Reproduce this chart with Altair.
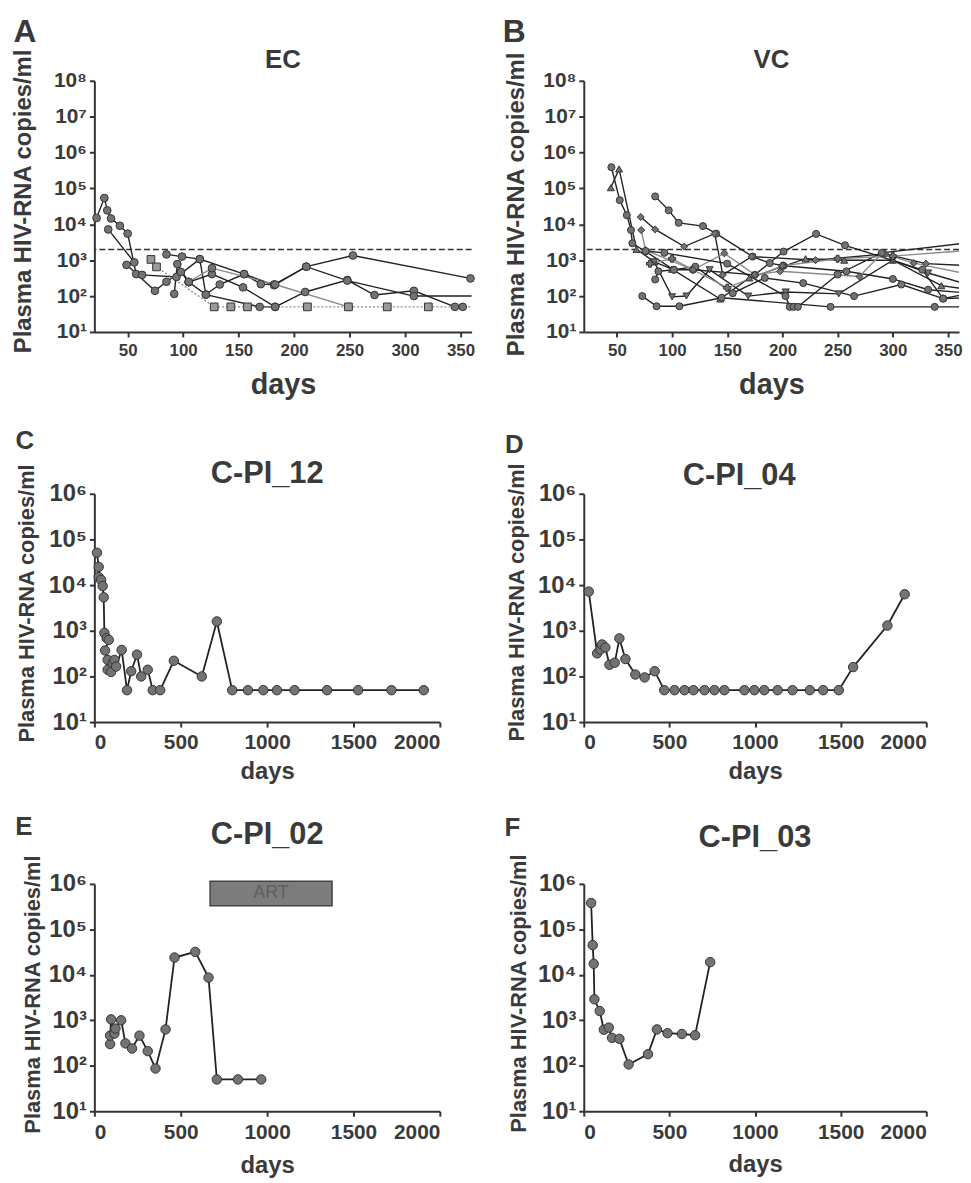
import altair as alt
import pandas as pd

FONT = "Liberation Sans"
TXT = "#3a3a3a"
LINE = "#222222"
GREY_LINE = "#8a8a8a"
PT_FILL = "#737373"
PT_STROKE = "#333333"

# ---------------- Panel A (EC) ----------------
ec1_days = [22, 29, 31.6, 35, 43, 50, 57.7, 63, 94, 115, 155, 170, 182, 211, 253, 359]
ec1_vals = [15000, 54000, 24500, 14500, 9100, 5500, 410, 390, 340, 1070, 410, 215, 210, 660, 1350, 310]
ec2_days = [32.5, 56, 49, 74.6, 85, 98, 105, 126, 154, 183, 210, 248, 272.5, 308, 345, 352]
ec2_vals = [7200, 870, 740, 140, 250, 470, 245, 410, 175, 50, 130, 280, 107, 140, 50, 50]
ec3_days = [85, 99, 115, 120.5, 133, 155, 182, 211, 248, 308, 365]
ec3_vals = [1450, 1260, 1070, 110, 210, 410, 200, 660, 270, 100, 100]
ec4_days = [92, 94.8, 105, 120.5, 169, 183]
ec4_vals = [115, 780, 245, 110, 50, 50]
ec5_days = [105, 126, 183, 249]
ec5_vals = [250, 600, 210, 50]
ecsq_days = [71, 76, 128, 143, 158, 212, 249, 284, 321, 365]
ecsq_vals = [1050, 650, 50, 50, 50, 50, 50, 50, 50, 50]

# ---------------- Panel B (VC) ----------------
vc1_days = [45, 52.6, 59, 62.8, 64, 76, 101.6, 119, 175, 201, 230.5, 256.7, 326.7, 345.6, 370]
vc1_vals = [390000, 47000, 18000, 6900, 2950, 1750, 540, 540, 390, 1740, 5400, 2600, 540, 85, 120]
vc2_days = [44.5, 52, 67.8, 84, 100, 143.6, 170, 221, 256, 300, 344, 370]
vc2_vals = [105000, 350000, 2000, 900, 560, 83, 320, 1100, 1000, 1000, 195, 150]
vc3_days = [84.7, 97, 106, 128, 140, 173, 188.5, 201, 258, 300, 332, 370]
vc3_vals = [60000, 24500, 11000, 8900, 5500, 1260, 830, 700, 490, 300, 150, 120]
vc4_days = [71.6, 84.7, 111, 138.6, 146, 172, 230, 293, 330, 370]
vc4_vals = [16000, 7200, 2400, 5500, 390, 1260, 1000, 1500, 800, 700]
vc5_days = [73, 86, 106.6, 145, 243.6, 338, 370]
vc5_vals = [100, 52, 52, 90, 50, 50, 50]
vc6_days = [83.8, 100, 113, 134, 169, 203, 251, 300, 332, 370]
vc6_vals = [900, 95, 100, 540, 100, 130, 115, 1000, 440, 200]
vc7_days = [84.7, 87.6, 101.6, 121, 155, 184, 218.8, 264.9, 307.7, 345.6, 370]
vc7_vals = [290, 490, 540, 660, 120, 320, 230, 100, 210, 85, 90]
vc8_days = [72, 76, 119, 147.4, 175, 198, 269.8, 290, 319, 370]
vc8_vals = [6900, 1900, 540, 1550, 390, 490, 350, 1550, 830, 400]
vc9_days = [76, 93, 150, 202.8, 206.6, 210, 214, 250, 290, 370]
vc9_vals = [1800, 1600, 800, 100, 50, 50, 50, 400, 1600, 3100]
vc10_days = [80, 100, 150, 200, 250, 300, 370]
vc10_vals = [800, 1100, 170, 700, 1100, 1300, 1900]

# ---------------- Panels C-F ----------------
c12_days = [15, 25, 25, 39, 48, 54, 58, 71, 83, 62, 77, 77, 97, 106, 116, 126, 158, 189, 213, 247,
            271, 309, 338, 381, 460, 622, 709, 798, 889, 978, 1057, 1159, 1347, 1527, 1720, 1907]
c12_vals = [51000, 25000, 15000, 13000, 9500, 5400, 900, 690, 630, 370, 230, 140, 125, 195, 230, 165, 380,
            50, 130, 300, 100, 140, 50, 50, 220, 100, 1600, 50, 50, 50, 50, 50, 50, 50, 50, 50]
c04_days = [29, 78, 97, 107, 126, 150, 181, 208, 243, 301, 355, 414, 470, 530, 588, 641, 705, 763, 821,
            938, 996, 1054, 1132, 1219, 1320, 1398, 1489, 1573, 1773, 1874]
c04_vals = [7200, 320, 390, 500, 430, 180, 200, 680, 240, 110, 95, 130, 50, 50, 50, 50, 50, 50, 50,
            50, 50, 50, 50, 50, 50, 50, 50, 160, 1300, 6300]
c02_days = [91, 91, 97, 116, 122, 155, 180, 218, 261, 309, 354, 412, 464, 584, 661, 709, 831, 966]
c02_vals = [300, 460, 1050, 510, 660, 1000, 310, 240, 460, 210, 87, 630, 24000, 32000, 8700, 50, 50, 50]
art_start, art_end = 670, 1376
art_low, art_high = 330000, 1150000
c03_days = [43, 52, 58, 62, 93, 117, 146, 165, 208, 262, 375, 427, 489, 573, 650, 738]
c03_vals = [380000, 45000, 17500, 2900, 1600, 620, 690, 410, 390, 107, 180, 630, 520, 500, 470, 19000]

SUP_EXPR = "'10' + ['\u2070','\u00b9','\u00b2','\u00b3','\u2074','\u2075','\u2076','\u2077','\u2078'][round(log(datum.value)/LN10)]"


def make_df(series):
    rows = []
    for name, days, vals, shape, lc, dotted in series:
        for i, (d, v) in enumerate(zip(days, vals)):
            rows.append(dict(s=name, i=i, day=d, val=v, shape=shape, lc=lc, dotted=dotted,
                             pf=("#9a9a9a" if shape == "square" else PT_FILL)))
    return pd.DataFrame(rows)


def panel(series, letter, title, xdom, xticks, ymax, w, h, big, letter_xy, title_xy, ytitle_xy,
          xtitle_y, psize, ref=False, art=False, anchor=False):
    df = make_df(series)
    if big:
        ylab, xlab, ytitle, xtitle, ptitle, lfont, lw, lpad = 24, 21, 22, 24, 31, 26, 1.8, 5
    else:
        ylab, xlab, ytitle, xtitle, ptitle, lfont, lw, lpad = 21, 17, 24, 29, 26, 32, 1.4, 6
    axis_common = dict(domainColor="#333", domainWidth=2, tickColor="#333", tickWidth=2, tickSize=5,
                       labelFont=FONT, labelFontWeight="bold", labelColor=TXT,
                       titleFont=FONT, titleFontWeight="bold", titleColor=TXT, grid=False,
                       titleAlign="center", titleBaseline="middle")
    x = alt.X("day:Q", scale=alt.Scale(domain=xdom, nice=False, zero=False),
              axis=alt.Axis(values=xticks, format="d", title="days", titleFontSize=xtitle,
                            labelFontSize=xlab, labelPadding=lpad, titleX=w / 2, titleY=xtitle_y,
                            titleAngle=0, **axis_common))
    y = alt.Y("val:Q", scale=alt.Scale(type="log", domain=[10, 10 ** ymax], nice=False),
              axis=alt.Axis(values=[10 ** k for k in range(1, ymax + 1)], labelExpr=SUP_EXPR,
                            title="Plasma HIV-RNA copies/ml", titleFontSize=ytitle, labelFontSize=ylab,
                            titleX=ytitle_xy[0], titleY=ytitle_xy[1], titleAngle=270,
                            labelPadding=3, **axis_common))
    layers = []
    if ref:
        layers.append(alt.Chart(pd.DataFrame({"val": [2000]})).mark_rule(
            strokeDash=[6, 3], color="#333", strokeWidth=1.5).encode(y=y))
    if art:
        layers.append(alt.Chart(pd.DataFrame({"day": [art_start], "day2": [art_end], "val": [art_low], "val2": [art_high]}))
                      .mark_rect(fill="#7c7c7c", stroke="#444", strokeWidth=1.5)
                      .encode(x=x, x2="day2:Q", y=y, y2="val2:Q"))
        layers.append(alt.Chart(pd.DataFrame({"day": [(art_start + art_end) / 2], "val": [620000], "t": ["ART"]}))
                      .mark_text(font=FONT, fontSize=18, color="#5e5e5e", baseline="middle")
                      .encode(x=x, y=y, text="t:N"))
    solid = df[df.dotted == 0]
    dotted = df[df.dotted == 1]
    layers.append(alt.Chart(solid).mark_line(clip=True, strokeWidth=lw).encode(
        x=x, y=y, detail="s:N", order="i:Q", stroke=alt.Stroke("lc:N", scale=None)))
    if len(dotted):
        layers.append(alt.Chart(dotted).mark_line(clip=True, strokeWidth=lw, strokeDash=[2, 2]).encode(
            x=x, y=y, detail="s:N", order="i:Q", stroke=alt.Stroke("lc:N", scale=None)))
    pts = df[df.day <= xdom[1]]
    layers.append(alt.Chart(pts).mark_point(filled=True, size=psize, opacity=1, stroke=PT_STROKE,
                                            strokeWidth=1).encode(
        x=x, y=y, shape=alt.Shape("shape:N", scale=None), fill=alt.Fill("pf:N", scale=None)))
    lab = pd.DataFrame({"t": [letter], "ttl": [title]})
    layers.append(alt.Chart(lab).mark_text(
        font=FONT, fontWeight="bold", fontSize=lfont, color=TXT, align="center", baseline="middle").encode(
        x=alt.value(letter_xy[0]), y=alt.value(letter_xy[1]), text="t:N"))
    layers.append(alt.Chart(lab).mark_text(
        font=FONT, fontWeight="bold", fontSize=ptitle, color=TXT, align="center", baseline="middle").encode(
        x=alt.value(w / 2 + title_xy[0]), y=alt.value(title_xy[1]), text="ttl:N"))
    if anchor:
        # invisible point fixing the top-left corner of the whole figure
        layers.append(alt.Chart(lab).mark_point(size=1, opacity=0).encode(
            x=alt.value(-86), y=alt.value(-68)))
    return alt.layer(*layers).properties(width=w, height=h)


C = "circle"
TU = "triangle-up"
TD = "triangle-down"
D = "diamond"
S = "square"
X = "cross"

ec_series = [
    ("e1", ec1_days, ec1_vals, C, LINE, 0),
    ("e2", ec2_days, ec2_vals, C, LINE, 0),
    ("e3", ec3_days, ec3_vals, C, LINE, 0),
    ("e4", ec4_days, ec4_vals, C, LINE, 0),
    ("e5", ec5_days, ec5_vals, C, GREY_LINE, 0),
    ("esq", ecsq_days, ecsq_vals, S, GREY_LINE, 1),
]
vc_series = [
    ("v1", vc1_days, vc1_vals, C, LINE, 0),
    ("v2", vc2_days, vc2_vals, TU, LINE, 0),
    ("v3", vc3_days, vc3_vals, C, LINE, 0),
    ("v4", vc4_days, vc4_vals, D, LINE, 0),
    ("v5", vc5_days, vc5_vals, C, LINE, 0),
    ("v6", vc6_days, vc6_vals, TD, LINE, 0),
    ("v7", vc7_days, vc7_vals, C, LINE, 0),
    ("v8", vc8_days, vc8_vals, D, GREY_LINE, 0),
    ("v9", vc9_days, vc9_vals, C, LINE, 0),
    ("v10", vc10_days, vc10_vals, X, GREY_LINE, 0),
]

xt_small = [50, 100, 150, 200, 250, 300, 350]
xt_big = [0, 500, 1000, 1500, 2000]

pA = panel(ec_series, "A", "EC", [20, 360], xt_small, 8, 380, 253, False,
           (-70, -49), (0, -21), (-71, 121), 53, 60, ref=True, anchor=True)
pB = panel(vc_series, "B", "VC", [20, 360], xt_small, 8, 378, 253, False,
           (-70, -49), (0, -21), (-68, 124), 53, 50, ref=True)
pC = panel([("c", c12_days, c12_vals, C, LINE, 0)], "C", "C-PI_12", [0, 2000], xt_big, 6, 348, 230, True,
           (-70, -53), (0, -20), (-68, 110), 50, 90)
pD = panel([("d", c04_days, c04_vals, C, LINE, 0)], "D", "C-PI_04", [0, 2000], xt_big, 6, 345, 230, True,
           (-70, -49), (-16, -18), (-68, 109), 50, 90)
pE = panel([("e", c02_days, c02_vals, C, LINE, 0)], "E", "C-PI_02", [0, 2000], xt_big, 6, 348, 229, True,
           (-71, -57), (0, -49), (-62, 111), 55, 90, art=True)
pF = panel([("f", c03_days, c03_vals, C, LINE, 0)], "F", "C-PI_03", [0, 2000], xt_big, 6, 345, 229, True,
           (-72, -56), (0, -46), (-66, 110), 54, 90)

chart = alt.concat(
    pA, pB, pC, pD, pE, pF,
    columns=2,
    spacing=alt.RowColnumber(row=163, column=113),
    bounds="flush",
).properties(padding={"left": 0, "top": 0, "right": 0, "bottom": 5}).configure_view(stroke=None)

chart.save("out.html", embed_options={"renderer": "svg", "actions": False})
